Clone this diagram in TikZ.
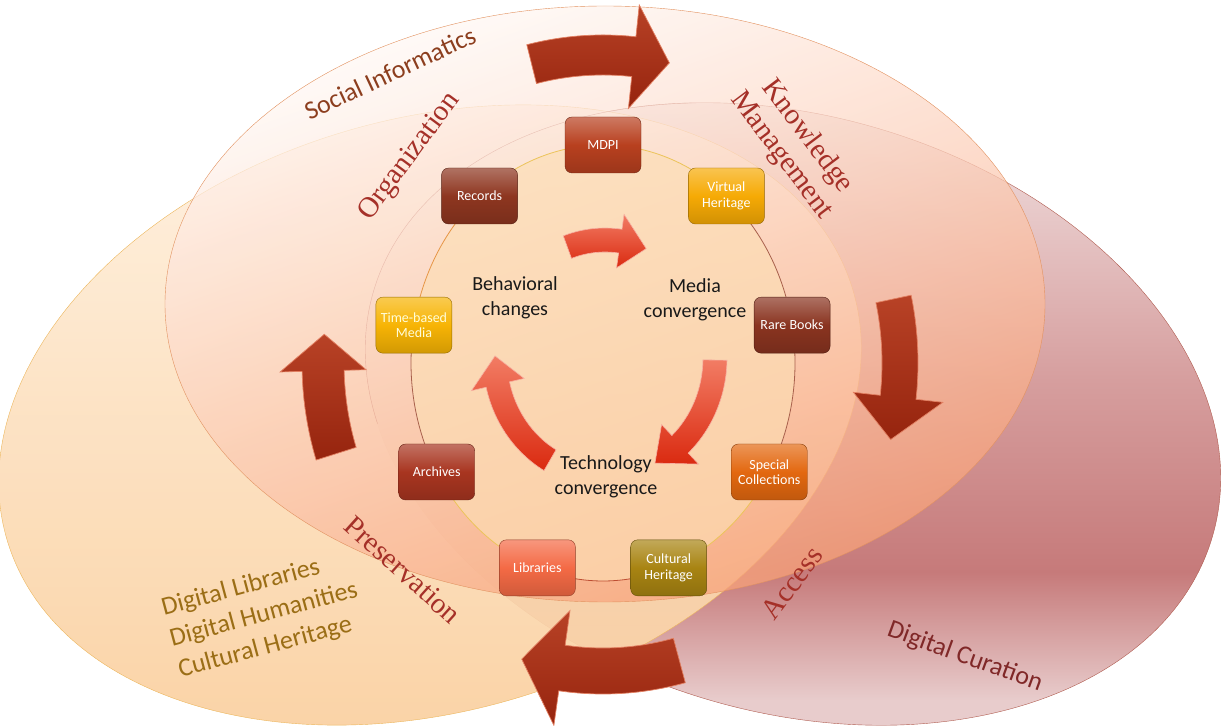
\documentclass[tikz,border=0pt]{standalone}
\usepackage{fontspec}
\setmainfont{Carlito}
\newfontfamily\ringfont{Liberation Serif}

\definecolor{mauveTop}{RGB}{247,239,239}
\definecolor{mauveMid}{RGB}{214,158,158}
\definecolor{mauveDark}{RGB}{198,122,122}
\definecolor{mauveBot}{RGB}{232,204,204}
\definecolor{mauveLine}{RGB}{176,92,80}
\definecolor{peachLight}{RGB}{255,243,228}
\definecolor{peachDark}{RGB}{250,206,156}
\definecolor{peachLine}{RGB}{236,182,92}
\definecolor{salmonTop}{RGB}{255,250,247}
\definecolor{salmonBot}{RGB}{248,160,118}
\definecolor{salmonLine}{RGB}{226,146,96}
\definecolor{ringFill}{RGB}{253,222,180}
\definecolor{ringYellow}{RGB}{236,196,90}
\definecolor{ringBrown}{RGB}{168,96,76}
\definecolor{ringRed}{RGB}{190,78,50}
\definecolor{ringOrange}{RGB}{230,150,70}
\definecolor{arrowLight}{RGB}{184,66,38}
\definecolor{arrowDark}{RGB}{150,36,14}
\definecolor{arrowEdge}{RGB}{226,128,98}
\definecolor{innerLight}{RGB}{242,124,100}
\definecolor{innerDark}{RGB}{218,42,16}
\definecolor{labelRed}{RGB}{165,48,40}
\definecolor{socialBrown}{RGB}{140,62,30}
\definecolor{goldText}{RGB}{155,110,22}
\definecolor{curationRed}{RGB}{128,40,40}
\definecolor{mdpiC}{RGB}{184,64,31}
\definecolor{recordsC}{RGB}{142,54,32}
\definecolor{virtualC}{RGB}{246,170,5}
\definecolor{rareC}{RGB}{138,52,32}
\definecolor{specialC}{RGB}{227,104,16}
\definecolor{culturalC}{RGB}{168,132,18}
\definecolor{librariesC}{RGB}{244,106,69}
\definecolor{archivesC}{RGB}{168,53,32}
\definecolor{timeC}{RGB}{247,180,5}

\pgfdeclareverticalshading{curationshade}{100bp}{color(0bp)=(mauveBot); color(25bp)=(mauveBot);
    color(35bp)=(mauveDark); color(50bp)=(mauveMid); color(75bp)=(mauveTop); color(100bp)=(mauveTop)}

\tikzset{
    ringbox/.style={
        rectangle,
        rounded corners=7pt,
        minimum width=76pt,
        minimum height=56pt,
        inner sep=1pt,
        align=center,
        text=white,
        font=\fontsize{14}{15.5}\selectfont,
        top color=#1!70!white,
        bottom color=#1!85!black,
        middle color=#1,
        draw=#1!60!black,
        thin,
    },
    ringlabel/.style={
        font=\ringfont\fontsize{29}{32}\selectfont,
        text=labelRed,
        align=center,
    },
    fieldlabel/.style={
        font=\fontsize{26}{32}\selectfont,
    },
    midtext/.style={
        font=\fontsize{20}{25}\selectfont,
        text=black!90,
        align=center,
    },
    bigarrow/.style={
        top color=arrowLight,
        bottom color=arrowDark,
        draw=arrowEdge,
        line width=0.7pt,
    },
    innerarrow/.style={
        top color=innerLight,
        bottom color=innerDark,
        draw=innerLight!60!white,
        line width=0.6pt,
    },
    ringline/.style={
        line width=0.8pt,
    },
}

% thick curved arrow on an elliptic arc: rx, ry, tail angle, tip angle, head length, half body, half head
\newcommand{\ringarrow}[8][]{%
  \pgfmathsetmacro{\arOx}{#2+#7}\pgfmathsetmacro{\arOy}{#3+#7}%
  \pgfmathsetmacro{\arIx}{#2-#7}\pgfmathsetmacro{\arIy}{#3-#7}%
  \pgfmathsetmacro{\arHx}{#2+#8}\pgfmathsetmacro{\arHy}{#3+#8}%
  \pgfmathsetmacro{\arKx}{#2-#8}\pgfmathsetmacro{\arKy}{#3-#8}%
  \pgfmathsetmacro{\arB}{#5+#6}%
  \shadedraw[#1] ({\arOx*cos(#4)},{\arOy*sin(#4)})
    arc[start angle=#4, end angle=\arB, x radius=\arOx, y radius=\arOy]
    -- ({\arHx*cos(\arB)},{\arHy*sin(\arB)})
    -- ({#2*cos(#5)},{#3*sin(#5)})
    -- ({\arKx*cos(\arB)},{\arKy*sin(\arB)})
    -- ({\arIx*cos(\arB)},{\arIy*sin(\arB)})
    arc[start angle=\arB, end angle=#4, x radius=\arIx, y radius=\arIy]
    -- cycle;}

\begin{document}
\begin{tikzpicture}[x=1pt,y=1pt]
    \useasboundingbox (0,0) rectangle (1222,725);
    \coordinate (ctr) at (603,362);
    \coordinate (core) at (605,367);
    \coordinate (curc) at (793,311);
    \coordinate (libc) at (430,310);
    \coordinate (socc) at (605,421);

    % the three fields
    \shadedraw[shading=curationshade, draw=mauveLine, thin,
        rotate around={-16.3:(curc)}] (curc) ellipse (437 and 298);
    \shadedraw[top color=peachLight, bottom color=peachDark, draw=peachLine, thin,
        fill opacity=.93, rotate around={16.4:(libc)}] (libc) ellipse (441 and 296);
    \begin{scope}[shift={(curc)}, rotate=-16.3]
        \draw[mauveLine, thin] (115:437 and 298) arc[start angle=115, end angle=205, x radius=437, y radius=298];
    \end{scope}
    \shadedraw[top color=salmonTop, bottom color=salmonBot, shading angle=20,
        draw=salmonLine, thin, fill opacity=.74] (socc) ellipse (440 and 298);
    \fill[ringFill, fill opacity=.65] (ctr) ellipse (192 and 218);

    % ring of the boxes
    \foreach \a/\n in {90/mdpi,50/virtual,10/rare,-30/special,-70/cultural,-110/libraries,-150/archives,170/timebased,130/records}
        \coordinate (\n-spot) at ([shift={(\a:192 and 218)}]ctr);
    \foreach \n/\a/\c in {mdpi/90/ringYellow,virtual/50/ringBrown,rare/10/ringBrown,special/-30/ringYellow,
        cultural/-70/ringRed,libraries/-110/ringYellow,archives/-150/ringBrown,timebased/170/ringOrange,records/130/ringYellow}
        \draw[ringline, \c] (\n-spot) arc[start angle=\a, delta angle=-40, x radius=192, y radius=218];

    % big arrows
    \begin{scope}[shift={(ctr)}]
        \ringarrow[bigarrow]{295}{308}{104}{77}{7}{20}{52}
        \ringarrow[bigarrow]{297}{308}{12}{-14.4}{8}{18}{45}
        \ringarrow[bigarrow]{295}{308}{-75}{-106}{8}{23}{58}
        \ringarrow[bigarrow]{280}{300}{197.6}{174.5}{7}{21}{43}
    \end{scope}

    % inner cycle
    \begin{scope}[shift={(core)}]
        \ringarrow[innerarrow]{110}{118}{110}{68}{14}{12}{27}
        \ringarrow[innerarrow]{110}{118}{-1}{-63}{16}{12}{27}
        \ringarrow[innerarrow]{110}{118}{240}{179}{14}{12}{27}
    \end{scope}

    \node[ringbox=mdpiC] (mdpi) at (mdpi-spot) {MDPI};
    \node[ringbox=virtualC] (virtual) at (virtual-spot) {Virtual\\Heritage};
    \node[ringbox=rareC] (rare) at (rare-spot) {Rare Books};
    \node[ringbox=specialC] (special) at (special-spot) {Special\\Collections};
    \node[ringbox=culturalC] (cultural) at (cultural-spot) {Cultural\\Heritage};
    \node[ringbox=librariesC] (libraries) at (libraries-spot) {Libraries};
    \node[ringbox=archivesC] (archives) at (archives-spot) {Archives};
    \node[ringbox=timeC, text=yellow!15] (timebased) at (timebased-spot) {Time-based\\Media};
    \node[ringbox=recordsC] (records) at (records-spot) {Records};

    \node[midtext] (behavioral) at (515,427) {Behavioral\\changes};
    \node[midtext] (media) at (695,425) {Media\\convergence};
    \node[midtext] (technology) at (606,248) {Technology\\convergence};

    \node[ringlabel, rotate=53.5] (organization) at (410,568) {Organization};
    \node[ringlabel, rotate=-53] (knowledge) at (794,579) {Knowledge\\Management};
    \node[ringlabel, rotate=-42] (preservation) at (403,155) {Preservation};
    \node[ringlabel, rotate=53] (access) at (792,142) {Access};

    \node[fieldlabel, text=socialBrown, rotate=25] (social) at (390,652) {Social Informatics};
    \node[fieldlabel, text=curationRed, rotate=-20] (curation) at (965,68) {Digital Curation};
    \node[fieldlabel, text=goldText, rotate=15, align=left] (libfields) at (264,110)
        {Digital Libraries\\Digital Humanities\\Cultural Heritage};
\end{tikzpicture}
\end{document}
